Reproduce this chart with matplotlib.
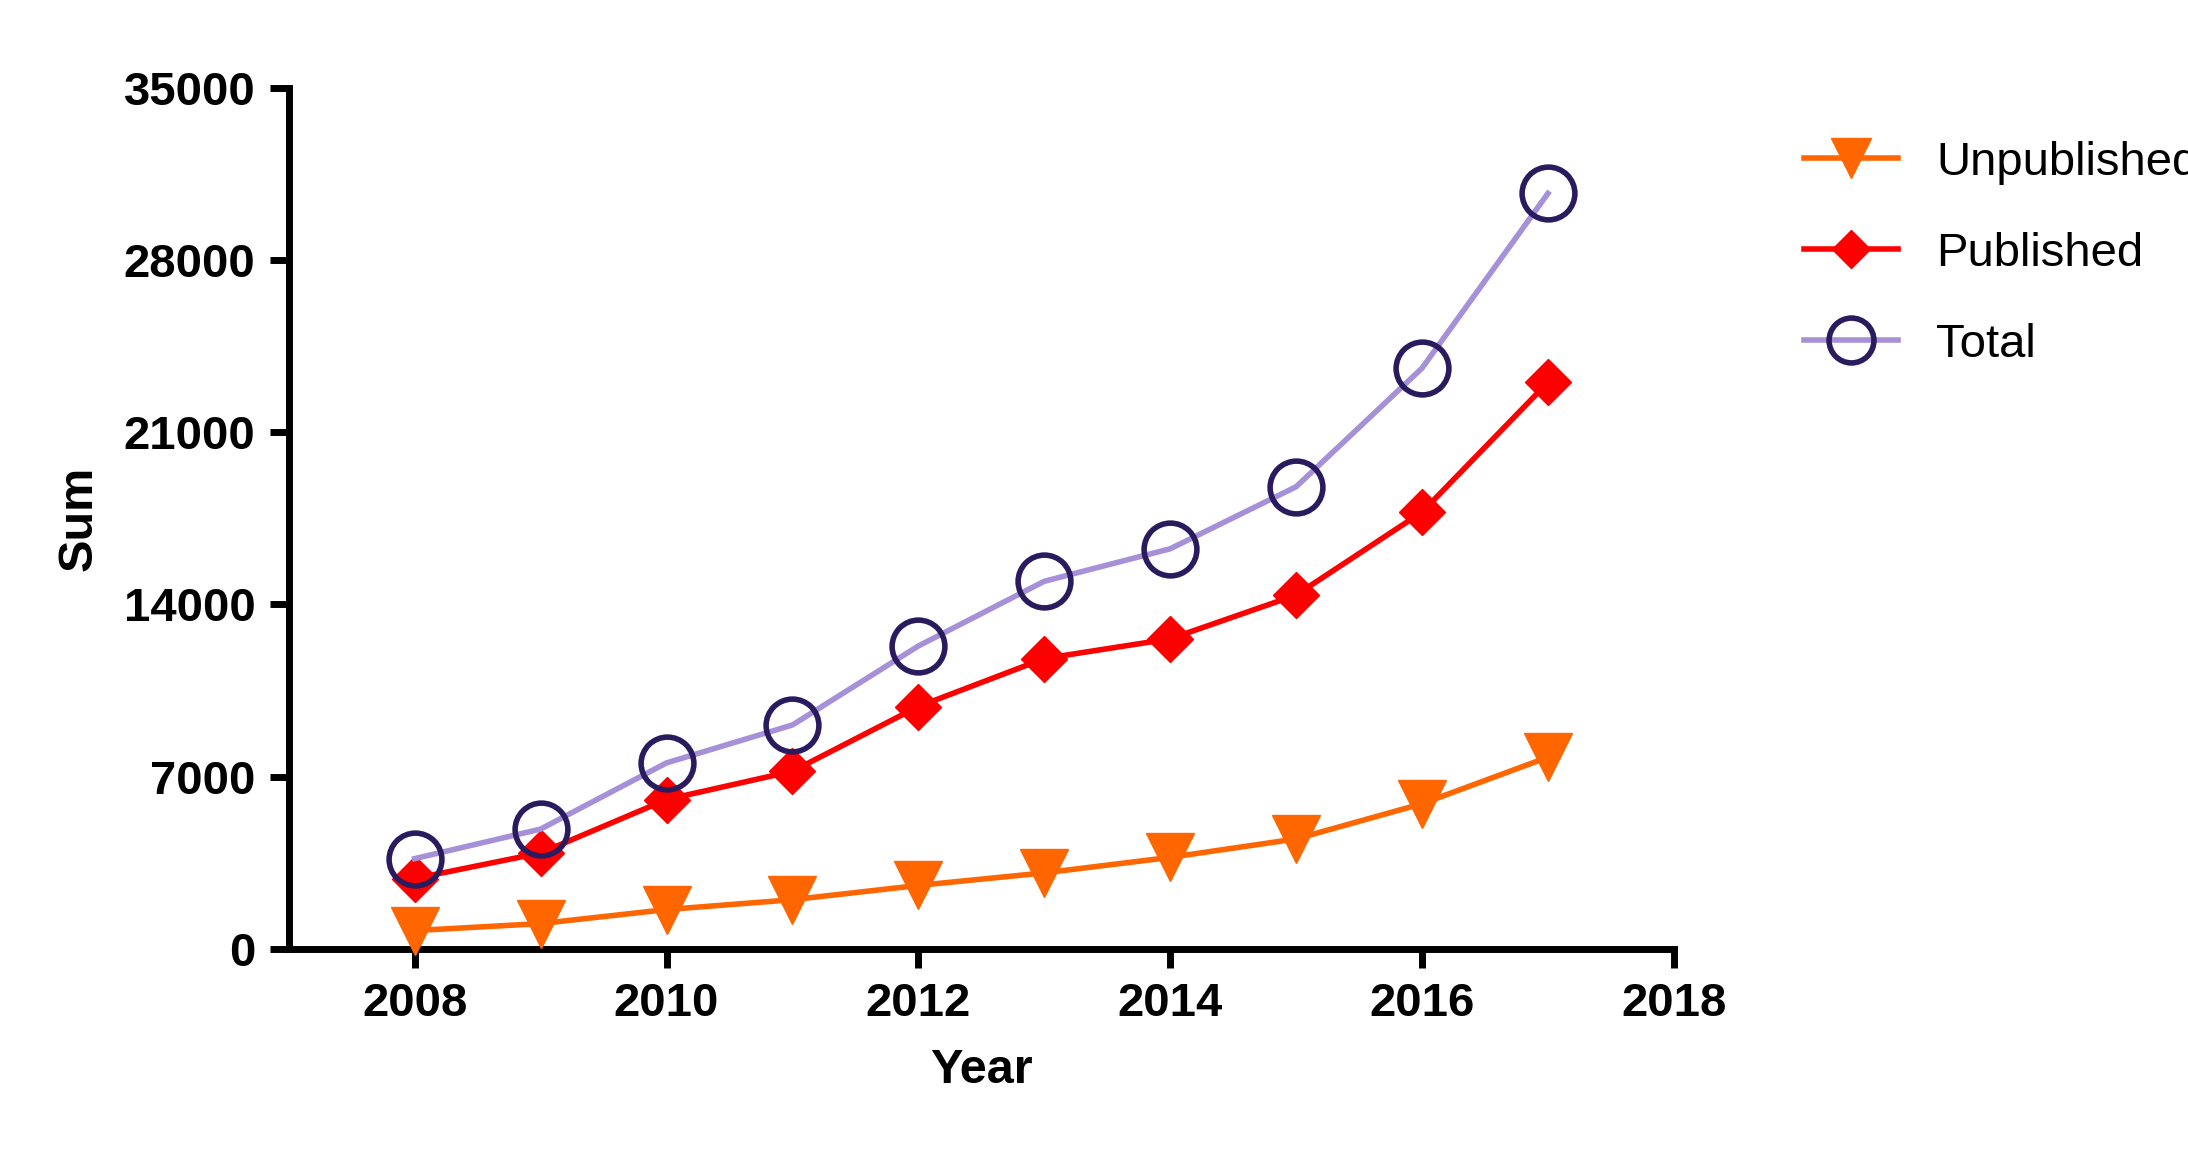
import matplotlib.pyplot as plt

plt.rcParams["font.family"] = "Liberation Sans"

years = [2008, 2009, 2010, 2011, 2012, 2013, 2014, 2015, 2016, 2017]
unpublished = [745, 1030, 1600, 2000, 2580, 3090, 3720, 4470, 5900, 7790]
published = [2860, 3900, 6070, 7220, 9850, 11800, 12600, 14380, 17750, 23020]
total = [3670, 4870, 7560, 9100, 12310, 14940, 16260, 18780, 23600, 30700]

fig = plt.figure(figsize=(21.88, 11.53), dpi=100)
ax = fig.add_axes([0.132, 0.177, 0.633, 0.747])

ax.plot(years, unpublished, color="#FF6600", lw=4, marker="v", ms=34,
        mfc="#FF6600", mec="#FF6600", label="Unpublished", clip_on=False, zorder=3)
ax.plot(years, published, color="#FF0000", lw=4, marker="D", ms=23,
        mfc="#FF0000", mec="#FF0000", label="Published", clip_on=False, zorder=3)
ax.plot(years, total, color="#A690D8", lw=4, marker="o", ms=38,
        mfc="none", mec="#2A1A5E", mew=4, label="Total", clip_on=False, zorder=4)

ax.set_xlim(2007, 2018)
ax.set_ylim(0, 35000)
ax.set_xticks([2008, 2010, 2012, 2014, 2016, 2018])
ax.set_yticks([0, 7000, 14000, 21000, 28000, 35000])
for s in ["top", "right"]:
    ax.spines[s].set_visible(False)
for s in ["left", "bottom"]:
    ax.spines[s].set_linewidth(5)
ax.tick_params(width=5, length=14, labelsize=34, pad=10)
for t in ax.get_xticklabels() + ax.get_yticklabels():
    t.set_fontweight("bold")
ax.set_xlabel("Year", fontsize=35, fontweight="bold", labelpad=16)
ax.set_ylabel("Sum", fontsize=35, fontweight="bold", labelpad=16)

fig.legend(loc="upper left", bbox_to_anchor=(0.805, 0.915), frameon=False,
           fontsize=34, handlelength=2.0, labelspacing=1.0, markerscale=0.85)

fig.savefig("out.png", dpi=100)
